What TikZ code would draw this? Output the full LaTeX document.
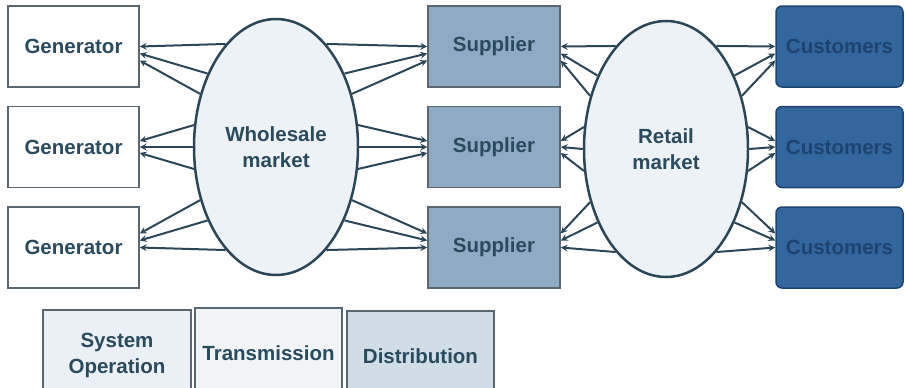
\documentclass[tikz,border=0pt]{standalone}
\usepackage{fontspec}
\setmainfont{Liberation Sans}
\usepackage{tikz}
\usetikzlibrary{positioning,shapes,arrows}
\definecolor{linec}{HTML}{2B4757}
\definecolor{textc}{HTML}{2A4A5E}
\definecolor{edgec}{HTML}{5A6670}
\definecolor{supc}{HTML}{8EAAC4}
\definecolor{custc}{HTML}{33669C}
\definecolor{custt}{HTML}{1D4470}
\definecolor{ellc}{HTML}{EDF2F6}
\definecolor{sysc}{HTML}{EAF0F5}
\definecolor{transc}{HTML}{F0F4F7}
\definecolor{distc}{HTML}{D0DCE6}

\begin{document}
\begin{tikzpicture}[x=1pt,y=-1pt,
	box/.style={draw=edgec, line width=1.5pt, minimum width=131pt, minimum height=81pt, inner sep=2pt, align=center, text=textc, font=\fontsize{20.5}{26}\selectfont\bfseries},
	market/.style={draw=linec, ellipse, line width=2.5pt, fill=ellc, minimum width=164pt, minimum height=256pt, inner sep=0pt, align=center, text=textc, font=\fontsize{20.5}{26}\selectfont\bfseries},
	arr/.style={-stealth, draw=linec, line width=2pt}]
				\path[use as bounding box, clip] (0,0) rectangle (905,388);
				\node[box, fill=white] (g1) at (73.5, 46.5) {Generator};
				\node[box, fill=white] (g2) at (73.5, 147) {Generator};
				\node[box, fill=white] (g3) at (73.5, 247.5) {Generator};
				\node[market] (wm) at (276, 147) {Wholesale\\market};
				\node[box, fill=supc, minimum width=132pt] (s1) at (494, 46.5) {Supplier};
				\node[box, fill=supc, minimum width=132pt] (s2) at (494, 147) {Supplier};
				\node[box, fill=supc, minimum width=132pt] (s3) at (494, 247.5) {Supplier};
				\node[market] (rm) at (666, 149) {Retail\\market};
				\node[box, fill=custc, draw=custt, rounded corners=6pt, minimum width=127pt, text=custt] (c1) at (839.5, 46.5) {Customers};
				\node[box, fill=custc, draw=custt, rounded corners=6pt, minimum width=127pt, text=custt] (c2) at (839.5, 147) {Customers};
				\node[box, fill=custc, draw=custt, rounded corners=6pt, minimum width=127pt, text=custt] (c3) at (839.5, 247.5) {Customers};
				\node[box, fill=sysc, minimum width=148pt, minimum height=90pt] (so) at (117, 355) {System\\Operation};
				\node[box, fill=transc, minimum width=147pt, minimum height=90pt] (tr) at (268.5, 353) {Transmission};
				\node[box, fill=distc, minimum width=147pt, minimum height=90pt] (di) at (420.5, 356) {Distribution};
				\draw[arr] (wm.116) -- (g1.east);
				\draw[arr] (wm.133) -- ([yshift=-7pt]g1.east);
				\draw[arr] (wm.145) -- ([yshift=-14pt]g1.east);
				\draw[arr] (wm.165) -- ([yshift=6pt]g2.east);
				\draw[arr] (wm.180) -- (g2.east);
				\draw[arr] (wm.195) -- ([yshift=-6pt]g2.east);
				\draw[arr] (wm.215) -- ([yshift=14pt]g3.east);
				\draw[arr] (wm.227) -- ([yshift=7pt]g3.east);
				\draw[arr] (wm.244) -- (g3.east);
				\draw[arr] (wm.64) -- (s1.west);
				\draw[arr] (wm.47) -- ([yshift=-7pt]s1.west);
				\draw[arr] (wm.35) -- ([yshift=-14pt]s1.west);
				\draw[arr] (wm.15) -- ([yshift=6pt]s2.west);
				\draw[arr] (wm.0) -- (s2.west);
				\draw[arr] (wm.-15) -- ([yshift=-6pt]s2.west);
				\draw[arr] (wm.-35) -- ([yshift=14pt]s3.west);
				\draw[arr] (wm.-47) -- ([yshift=7pt]s3.west);
				\draw[arr] (wm.-64) -- (s3.west);
				\draw[arr] (rm.116) -- (s1.east);
				\draw[arr] (rm.133) -- ([yshift=-7pt]s1.east);
				\draw[arr] (rm.145) -- ([yshift=-14pt]s1.east);
				\draw[arr] (rm.165) -- ([yshift=6pt]s2.east);
				\draw[arr] (rm.180) -- (s2.east);
				\draw[arr] (rm.195) -- ([yshift=-6pt]s2.east);
				\draw[arr] (rm.215) -- ([yshift=14pt]s3.east);
				\draw[arr] (rm.227) -- ([yshift=7pt]s3.east);
				\draw[arr] (rm.244) -- (s3.east);
				\draw[arr] (rm.64) -- (c1.west);
				\draw[arr] (rm.47) -- ([yshift=-7pt]c1.west);
				\draw[arr] (rm.35) -- ([yshift=-14pt]c1.west);
				\draw[arr] (rm.15) -- ([yshift=6pt]c2.west);
				\draw[arr] (rm.0) -- (c2.west);
				\draw[arr] (rm.-15) -- ([yshift=-6pt]c2.west);
				\draw[arr] (rm.-35) -- ([yshift=14pt]c3.west);
				\draw[arr] (rm.-47) -- ([yshift=7pt]c3.west);
				\draw[arr] (rm.-64) -- (c3.west);
\end{tikzpicture}
\end{document}
